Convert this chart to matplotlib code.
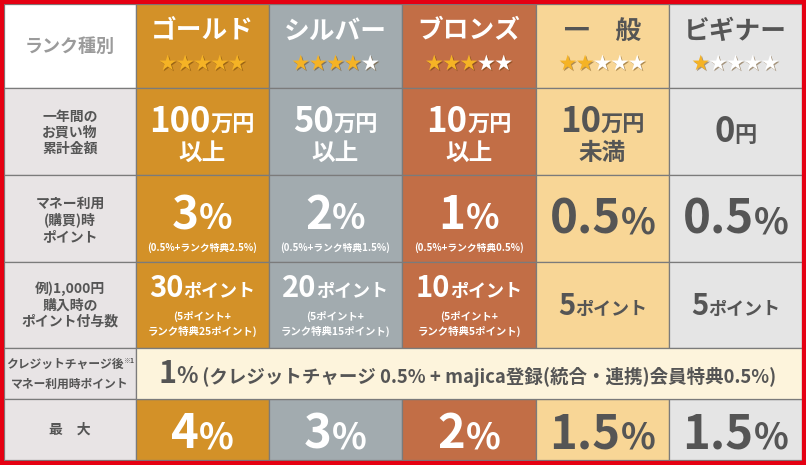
import matplotlib
matplotlib.use("Agg")
import matplotlib.pyplot as plt
import matplotlib.patheffects as pe
from matplotlib.patches import Rectangle

plt.rcParams['font.family'] = ['Noto Sans CJK JP', 'DejaVu Sans']

# ---- table content ----
ranks = ['ゴールド', 'シルバー', 'ブロンズ', '一　般', 'ビギナー']
stars = [5, 4, 3, 2, 1]
row_labels = ['ランク種別',
              '一年間の\nお買い物\n累計金額',
              'マネー利用\n(購買)時\nポイント',
              '例)1,000円\n購入時の\nポイント付与数',
              'クレジットチャージ後\nマネー利用時ポイント',
              '最　大']
spend_amount = ['100', '50', '10', '10', '0']
spend_unit = ['万円', '万円', '万円', '万円', '円']
spend_suffix = ['以上', '以上', '以上', '未満', '']
point_rate = ['3', '2', '1', '0.5', '0.5']
rate_breakdown = ['(0.5%+ランク特典2.5%)', '(0.5%+ランク特典1.5%)',
                  '(0.5%+ランク特典0.5%)', '', '']
points_per_1000 = ['30', '20', '10', '5', '5']
points_breakdown = ['(5ポイント+\nランク特典25ポイント)',
                    '(5ポイント+\nランク特典15ポイント)',
                    '(5ポイント+\nランク特典5ポイント)', '', '']
credit_rate = '1'
credit_note = '(クレジットチャージ 0.5% + majica登録(統合・連携)会員特典0.5%)'
max_rate = ['4', '3', '2', '1.5', '1.5']

# ---- styling ----
fills = ['#D39128', '#A2ABAF', '#C26E46', '#F8D696', '#E5E5E5']
text_colors = ['white', 'white', 'white', '#555555', '#555555']
label_fill = '#E8E4E5'
credit_fill = '#FDF4DC'
grid_color = '#7B7B7B'
dark = '#555555'

col_edges = [4, 136, 269, 402, 536, 669, 802]
row_edges = [4, 88, 175, 262, 348, 399, 460]

fig = plt.figure(figsize=(8.06, 4.65), dpi=100)
ax = fig.add_axes([0, 0, 1, 1])
ax.set_xlim(0, 806)
ax.set_ylim(465, 0)
ax.axis('off')
renderer = fig.canvas.get_renderer()


def cell(c0, c1, r, color):
    x0, x1 = col_edges[c0], col_edges[c1]
    y0, y1 = row_edges[r], row_edges[r + 1]
    ax.add_patch(Rectangle((x0, y0), x1 - x0, y1 - y0, facecolor=color,
                           edgecolor=grid_color, linewidth=0.9, zorder=1))


def run(x, y, parts, color, effects=None):
    """Draw text pieces of mixed size on one baseline, centred on x."""
    items = []
    total = 0
    for p in parts:
        s, fs = p[0], p[1]
        dy = p[2] if len(p) > 2 else 0
        pcolor = p[3] if len(p) > 3 else color
        t = ax.text(0, y + dy, s, fontsize=fs, fontweight='bold', color=pcolor,
                    ha='left', va='baseline', zorder=3, path_effects=effects)
        w = t.get_window_extent(renderer).width
        items.append((t, w))
        total += w
    cur = x - total / 2
    for t, w in items:
        t.set_x(cur)
        cur += w


def centers(i):
    return (col_edges[i + 1] + col_edges[i + 2]) / 2


# cells
for r in range(6):
    cell(0, 1, r, 'white' if r == 0 else label_fill)
for r in [0, 1, 2, 3, 5]:
    for i in range(5):
        cell(i + 1, i + 2, r, fills[i])
cell(1, 6, 4, credit_fill)

# row labels
lx = (col_edges[0] + col_edges[1]) / 2
ax.text(lx, 46, row_labels[0], fontsize=13, fontweight='bold', color='#9B9B9B',
        ha='center', va='center', zorder=3)
for r, yc in [(1, 133), (2, 220), (3, 305)]:
    ax.text(lx, yc, row_labels[r], fontsize=10, fontweight='bold', color=dark,
            ha='center', va='center', linespacing=1.2, zorder=3)
cl1, cl2 = row_labels[4].split('\n')
run(lx, 368, [(cl1, 8.5), ('※1', 5, -5)], dark)
run(lx, 388, [(cl2, 8.5)], dark)
ax.text(lx, 430, row_labels[5], fontsize=10, fontweight='bold', color=dark,
        ha='center', va='center', zorder=3)

star_fx = [pe.withSimplePatchShadow(offset=(0.8, -0.8),
                                    shadow_rgbFace=(0.35, 0.2, 0.0), alpha=0.45)]

for i in range(5):
    x = centers(i)
    tc = text_colors[i]
    # header
    ax.text(x, 31, ranks[i], fontsize=18.5, fontweight='bold', color=tc,
            ha='center', va='center', zorder=3)
    run(x, 69, [('★' * stars[i], 12.5, 0, '#F5B325'),
                ('★' * (5 - stars[i]), 12.5, 0, 'white')], tc, star_fx)
    # spending
    if spend_suffix[i]:
        run(x, 132, [(spend_amount[i], 25), (spend_unit[i], 16)], tc)
        run(x, 160, [(spend_suffix[i], 17)], tc)
    else:
        run(x, 142, [(spend_amount[i], 25), (spend_unit[i], 16)], tc)
    # point rate
    if rate_breakdown[i]:
        run(x, 229, [(point_rate[i], 33), ('%', 25)], tc)
        run(x, 251, [(rate_breakdown[i], 7)], tc)
    else:
        run(x, 233, [(point_rate[i], 34), ('%', 26)], tc)
    # points per 1000 yen
    if points_breakdown[i]:
        run(x, 297, [(points_per_1000[i], 21), ('ポイント', 13)], tc)
        b1, b2 = points_breakdown[i].split('\n')
        run(x, 320, [(b1, 7.5)], tc)
        run(x, 335, [(b2, 7.5)], tc)
    else:
        run(x, 315, [(points_per_1000[i], 21), ('ポイント', 13)], tc)
    # maximum
    run(x, 448, [(max_rate[i], 34), ('%', 26)], tc)

# credit charge row
run((col_edges[1] + col_edges[6]) / 2 - 2, 383,
    [(credit_rate, 22), ('%', 16), (' ' + credit_note, 13.3)], dark)

# red outer frame
ax.add_patch(Rectangle((2, 2), 802, 461, facecolor='none', edgecolor='#E50012',
                       linewidth=3, zorder=4))

fig.savefig('out.png', dpi=100)
